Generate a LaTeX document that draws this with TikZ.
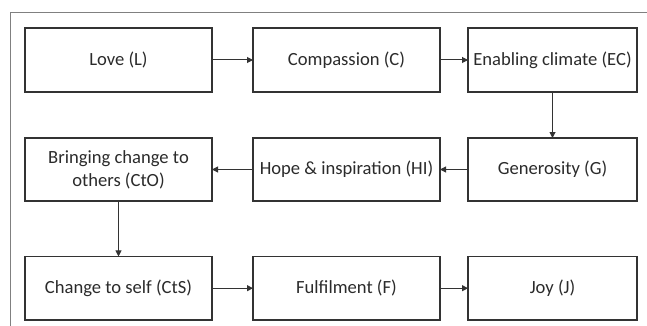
\documentclass[tikz,border=0pt]{standalone}
\usepackage{fontspec}
\setmainfont{Carlito}
\usetikzlibrary{arrows.meta}
\definecolor{boxline}{HTML}{333333}
\definecolor{txt}{HTML}{2B2B2B}
\definecolor{frameline}{HTML}{808080}
\begin{document}
\begin{tikzpicture}[x=1pt,y=-1pt,
  stepbox/.style={draw=boxline,line width=1.2pt,inner sep=2pt,outer sep=0pt,
    text=txt,font=\fontsize{18.6}{23}\selectfont,align=center},
  w1/.style={minimum width=187pt},
  w3/.style={minimum width=169pt},
  h1/.style={minimum height=64pt},
  link/.style={draw=boxline,line width=1pt,-{Triangle[length=6pt,width=6pt]}}]
\useasboundingbox (0,0) rectangle (647,326);
\draw[frameline,line width=1pt] (10,326) -- (10,13) -- (647,13);
% row 1
\node[stepbox,w1,h1] (L) at (118.5,60) {Love (L)};
\node[stepbox,w1,h1] (C) at (346.5,60) {Compassion (C)};
\node[stepbox,w3,h1] (EC) at (552.5,60) {Enabling climate (EC)};
% row 2
\node[stepbox,w3,minimum height=63pt] (G) at (552.5,169.5) {Generosity (G)};
\node[stepbox,w1,minimum height=63pt] (HI) at (346.5,169.5) {Hope \& inspiration (HI)};
\node[stepbox,w1,minimum height=63pt] (CtO) at (118.5,169.5) {Bringing change to\\others (CtO)};
% row 3
\node[stepbox,w1,minimum height=63.5pt] (CtS) at (118.5,288.2) {Change to self (CtS)};
\node[stepbox,w1,minimum height=63.5pt] (F) at (346.5,288.2) {Fulfilment (F)};
\node[stepbox,w3,minimum height=63.5pt] (J) at (552.5,288.2) {Joy (J)};
% connectors
\draw[link] (L) -- (C);
\draw[link] (C) -- (EC);
\draw[link] (EC) -- (G);
\draw[link] (G) -- (HI);
\draw[link] (HI) -- (CtO);
\draw[link] (CtO) -- (CtS);
\draw[link] (CtS) -- (F);
\draw[link] (F) -- (J);
\end{tikzpicture}
\end{document}
